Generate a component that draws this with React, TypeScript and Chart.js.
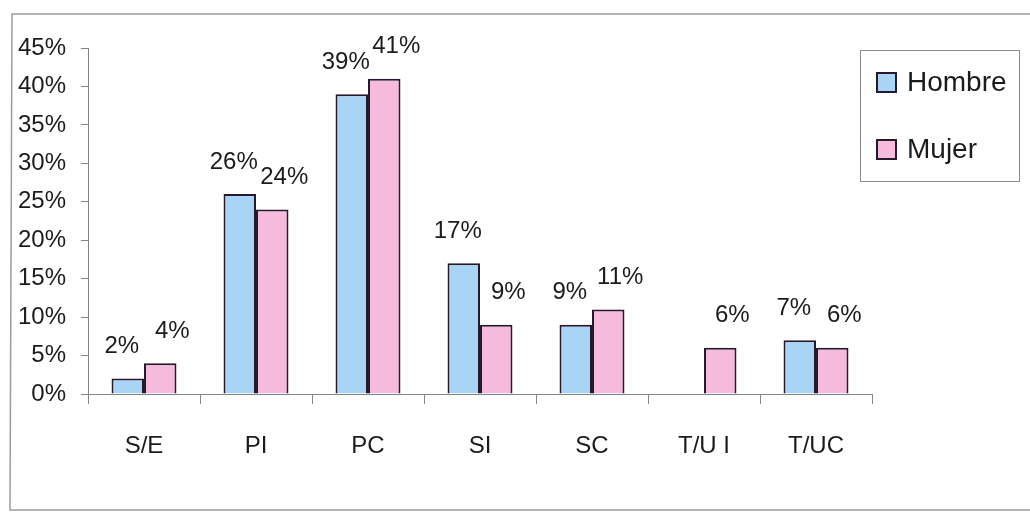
import React, { useEffect, useRef } from "react";
import { Chart, registerables } from "chart.js";

Chart.register(...registerables);

// Education-level categories and share of each group (percent)
const categories = ["S/E", "PI", "PC", "SI", "SC", "T/U I", "T/UC"];
const hombre: (number | null)[] = [2, 26, 39, 17, 9, null, 7];
const mujer: (number | null)[] = [4, 24, 41, 9, 11, 6, 6];
const yTicks = [0, 5, 10, 15, 20, 25, 30, 35, 40, 45];
const seriesNames = ["Hombre", "Mujer"];

const BLUE = "#a9d4f5";
const PINK = "#f6badb";
const EDGE = "#26192c";
const AXIS = "#858585";
const FONT = "'Liberation Sans', Arial, sans-serif";

// Horizontal nudge of the value labels per series so neighbours don't collide
const labelShift = [-6, 12];

// Percentage labels above every bar
const valueLabels = {
  id: "valueLabels",
  afterDatasetsDraw(chart: any) {
    const ctx = chart.ctx;
    ctx.save();
    ctx.font = `24px ${FONT}`;
    ctx.fillStyle = "#1b1b1b";
    ctx.textAlign = "center";
    ctx.textBaseline = "bottom";
    chart.data.datasets.forEach((ds: any, di: number) => {
      const meta = chart.getDatasetMeta(di);
      meta.data.forEach((bar: any, i: number) => {
        const v = ds.data[i];
        if (v === null || v === undefined) return;
        ctx.fillText(`${v}%`, bar.x + labelShift[di], bar.y - 20);
      });
    });
    ctx.restore();
  },
};

// Outer frame around the whole chart
const frame = {
  id: "frame",
  beforeDraw(chart: any) {
    const ctx = chart.ctx;
    ctx.save();
    ctx.strokeStyle = "#9c9c9c";
    ctx.lineWidth = 1.5;
    ctx.beginPath();
    ctx.moveTo(1030, 14);
    ctx.lineTo(12, 14);
    ctx.lineTo(10, 510);
    ctx.lineTo(1030, 510);
    ctx.stroke();
    ctx.restore();
  },
};

export default function App() {
  const canvasRef = useRef<HTMLCanvasElement | null>(null);

  useEffect(() => {
    if (!canvasRef.current) return;
    const chart = new Chart(canvasRef.current, {
      type: "bar",
      data: {
        labels: categories,
        datasets: [
          {
            label: seriesNames[0],
            data: hombre,
            backgroundColor: BLUE,
            borderColor: EDGE,
            borderWidth: 2,
            categoryPercentage: 0.58,
            barPercentage: 1,
          },
          {
            label: seriesNames[1],
            data: mujer,
            backgroundColor: PINK,
            borderColor: EDGE,
            borderWidth: 2,
            categoryPercentage: 0.58,
            barPercentage: 1,
          },
        ],
      },
      options: {
        animation: false,
        responsive: false,
        maintainAspectRatio: false,
        layout: { padding: { left: 0, right: 158, top: 48, bottom: 0 } },
        plugins: {
          legend: { display: false },
          tooltip: { enabled: false },
        },
        scales: {
          x: {
            grid: {
              offset: true,
              drawOnChartArea: false,
              drawTicks: true,
              tickLength: 10,
              color: AXIS,
            },
            border: { display: true, color: AXIS, width: 1 },
            ticks: {
              color: "#1b1b1b",
              font: { family: FONT, size: 24 },
              padding: 28,
              maxRotation: 0,
            },
            afterFit(scale: any) {
              scale.height = 120;
            },
          },
          y: {
            min: 0,
            max: 45,
            afterBuildTicks(scale: any) {
              scale.ticks = yTicks.map((v) => ({ value: v }));
            },
            grid: {
              drawOnChartArea: false,
              drawTicks: true,
              tickLength: 7,
              color: AXIS,
            },
            border: { display: true, color: AXIS, width: 1 },
            ticks: {
              color: "#1b1b1b",
              font: { family: FONT, size: 24 },
              padding: 15,
              callback: (v: any) => `${v}%`,
            },
            afterFit(scale: any) {
              scale.width = 88;
            },
          },
        },
      },
      plugins: [frame, valueLabels],
    });
    return () => chart.destroy();
  }, []);

  const legendItem = (name: string, color: string, top: number) => (
    <div
      style={{
        position: "absolute",
        left: 876,
        top,
        display: "flex",
        alignItems: "center",
        height: 24,
      }}
    >
      <div
        style={{
          width: 17,
          height: 17,
          background: color,
          border: `2px solid ${EDGE}`,
        }}
      />
      <span
        style={{
          marginLeft: 10,
          fontFamily: FONT,
          fontSize: 28,
          color: "#1b1b1b",
          lineHeight: "24px",
        }}
      >
        {name}
      </span>
    </div>
  );

  return (
    <div
      style={{
        position: "fixed",
        left: 0,
        top: 0,
        width: 1030,
        height: 514,
        background: "#ffffff",
      }}
    >
      <canvas ref={canvasRef} width={1030} height={514} style={{ display: "block" }} />
      <div
        style={{
          position: "absolute",
          left: 860,
          top: 50,
          width: 160,
          height: 132,
          border: "1px solid #8a8a8a",
          boxSizing: "border-box",
        }}
      />
      {legendItem(seriesNames[0], BLUE, 70)}
      {legendItem(seriesNames[1], PINK, 137)}
    </div>
  );
}
